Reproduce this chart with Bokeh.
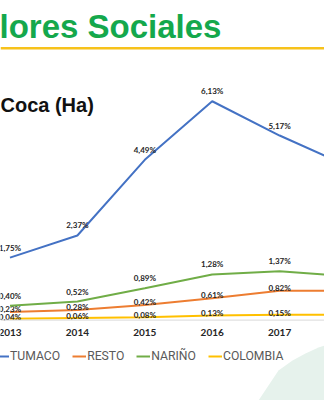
from bokeh.plotting import figure
from bokeh.models import Range1d, Label, Span, Legend, LegendItem, ColumnDataSource
from bokeh.core.properties import value
from bokeh.embed import file_html
from bokeh.resources import INLINE

# ---- data ----
years = [2013, 2014, 2015, 2016, 2017, 2018]
year_labels = ["2013", "2014", "2015", "2016", "2017", "2018"]
tumaco = [1.75, 2.37, 4.49, 6.13, 5.17, 4.33]
resto = [0.23, 0.28, 0.42, 0.61, 0.82, 0.82]
narino = [0.40, 0.52, 0.89, 1.28, 1.37, 1.23]
colombia = [0.04, 0.06, 0.08, 0.13, 0.15, 0.15]
series_names = ["TUMACO", "RESTO", "NARIÑO", "COLOMBIA"]
title_text = "lores Sociales"
subtitle_text = "Coca (Ha)"

W, H = 324, 400
x0, xs = 9.5, 67.4      # px position of 2013, px per year
y0, ys = 319.6, 35.7    # px (from top) of value 0, px per percent

p = figure(width=W, height=H, output_backend="svg", toolbar_location=None,
           min_border=0, outline_line_color=None)
xr_end = 2013 + (W - x0) / xs
p.x_range = Range1d(2013 - x0 / xs, xr_end)
p.y_range = Range1d(-(H - y0) / ys, y0 / ys)
p.axis.visible = False
p.grid.visible = False
p.background_fill_color = "white"
p.border_fill_color = "white"

def px2d(px, py):
    return 2013 + (px - x0) / xs, (y0 - py) / ys

# decorative mint shape bottom right
shape_px = [(258, 400), (268, 385), (278, 370), (292, 360), (305, 353), (318, 347), (324, 345), (324, 400)]
sx = [px2d(a, b)[0] for a, b in shape_px]
sy = [px2d(a, b)[1] for a, b in shape_px]
p.patch(sx, sy, fill_color="#e6f2ec", line_color=None)

# baseline
p.add_layout(Span(location=0, dimension="width", line_color="#d9d9d9", line_width=1))

# only label points that fall inside the visible window
vis = [i for i, yv in enumerate(years) if yv <= xr_end - 0.1]

colors = ["#4472C4", "#ED7D31", "#70AD47", "#FFC000"]
data = [tumaco, resto, narino, colombia]
offsets = [-10, -3, -10, -2]
renderers = []
for name, vals, c, off in zip(series_names, data, colors, offsets):
    r = p.line(years, vals, line_color=c, line_width=2)
    renderers.append(r)
    src = ColumnDataSource(dict(x=[years[i] for i in vis], y=[vals[i] for i in vis],
                                t=[f"{vals[i]:.2f}".replace(".", ",") + "%" for i in vis]))
    p.text("x", "y", text="t", source=src, text_align="center", text_baseline="middle",
           y_offset=off, text_font=value("Lato"), text_font_style="bold",
           text_font_size="8px", text_color="#262626")

ysrc = ColumnDataSource(dict(x=[years[i] for i in vis], y=[0] * len(vis),
                             t=[year_labels[i] for i in vis]))
p.text("x", "y", text="t", source=ysrc, text_align="center", text_baseline="middle",
       y_offset=12, text_font=value("Lato"), text_font_style="bold",
       text_font_size="10px", text_color="#262626")

legend = Legend(items=[LegendItem(label=n, renderers=[r]) for n, r in zip(series_names, renderers)],
                orientation="horizontal", location=(-5, 37),
                glyph_width=14, glyph_height=12, label_standoff=1, spacing=12,
                padding=0, margin=0, border_line_alpha=0, background_fill_alpha=0,
                label_text_font="Roboto", label_text_font_size="12.2px",
                label_text_color="#595959", label_height=12, label_width=10)
p.add_layout(legend, "center")

# header
p.add_layout(Label(x=-1, y=H - 26, x_units="screen", y_units="screen", text=title_text,
                   text_font="Liberation Sans", text_font_style="bold",
                   text_font_size="33px", text_color="#14A84C", text_baseline="alphabetic"))
p.add_layout(Span(location=px2d(0, 47.8)[1], dimension="width", line_color="#F7C21B", line_width=2.5))
p.add_layout(Label(x=0, y=H - 104, x_units="screen", y_units="screen", text=subtitle_text,
                   text_font="Liberation Sans", text_font_style="bold",
                   text_font_size="20px", text_color="#111111", text_baseline="alphabetic"))

open("out.html", "w").write(file_html(p, INLINE))
